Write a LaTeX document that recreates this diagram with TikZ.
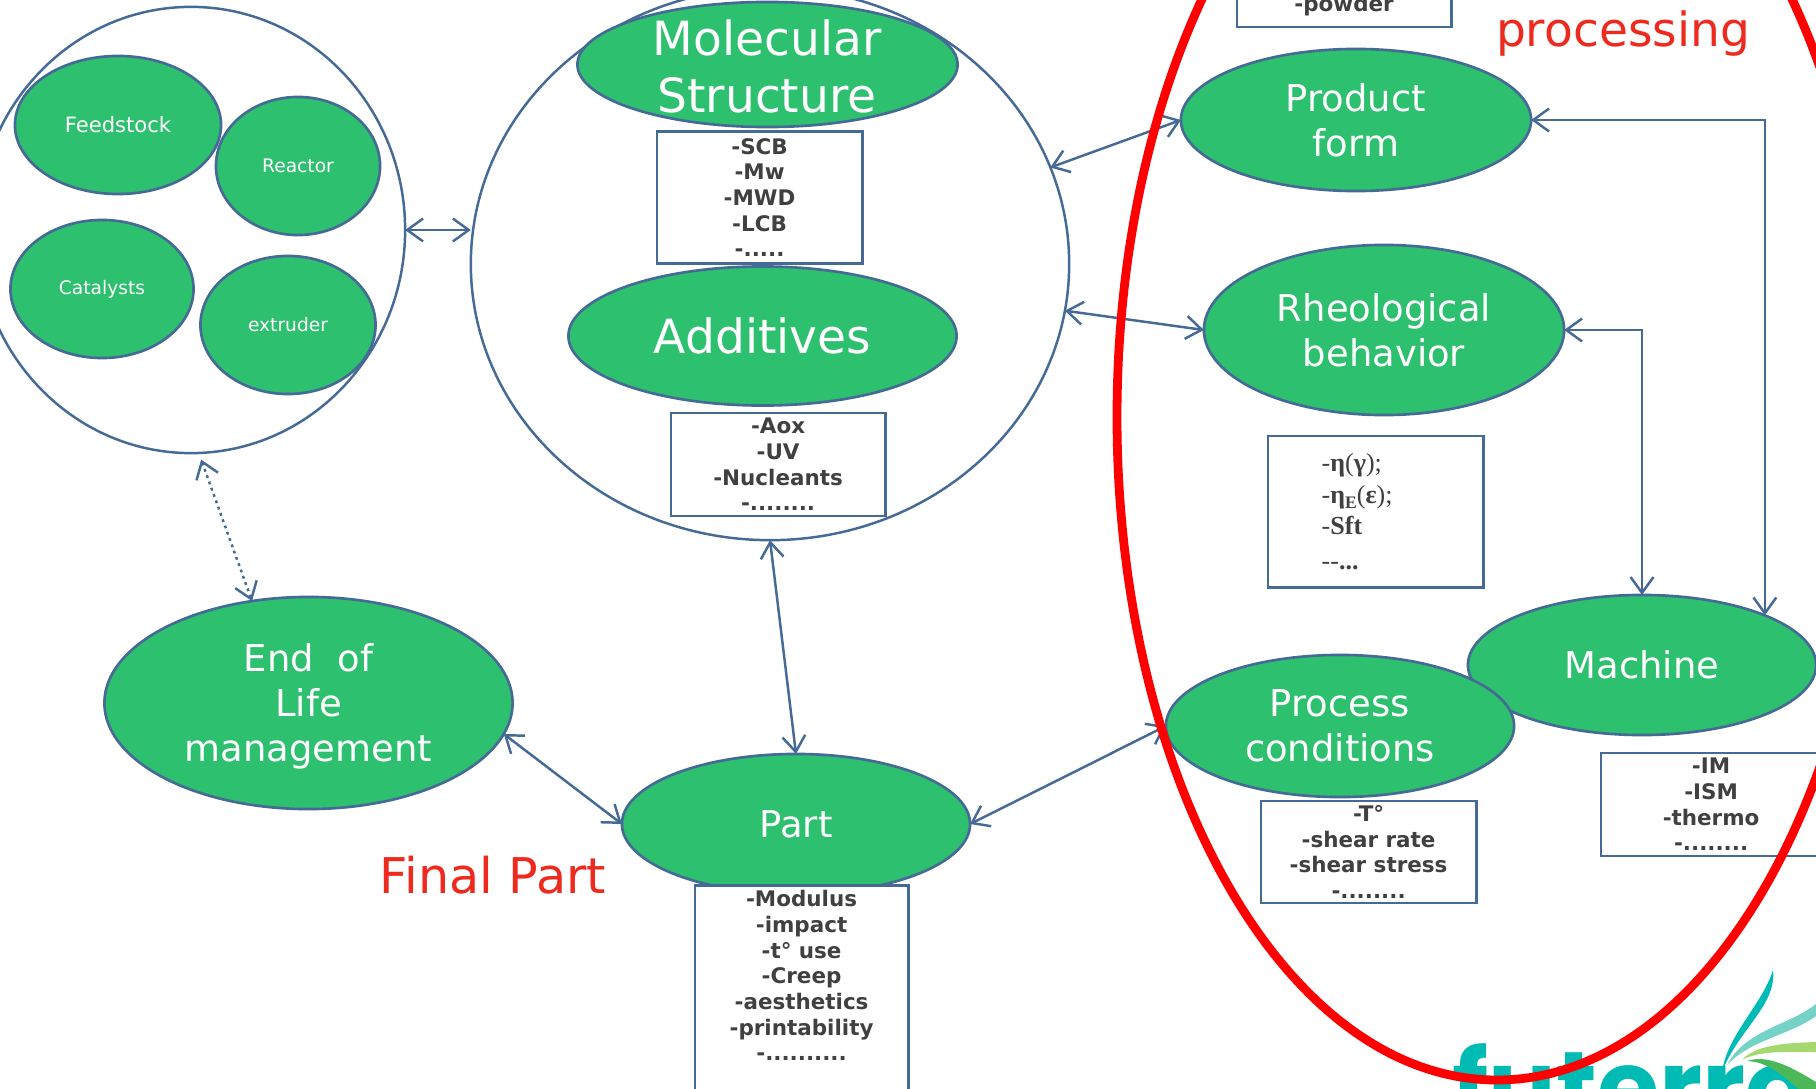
\documentclass[tikz,border=0pt]{standalone}
\usepackage{fontspec}
\setmainfont{DejaVu Sans}
\newfontfamily\logofont{Poppins}
\newfontfamily\viscofont{Liberation Serif}
\usetikzlibrary{arrows.meta,shapes.geometric}
\definecolor{nodegreen}{HTML}{2DC06E}
\definecolor{edgeblue}{HTML}{456A96}
\definecolor{titlered}{HTML}{EE2A1E}
\definecolor{boxgray}{HTML}{404040}
\definecolor{logoteal}{HTML}{00BBB4}
\definecolor{leafteal}{HTML}{74D2C6}
\definecolor{leaflime}{HTML}{A5D86E}
\definecolor{leafgreen}{HTML}{4DB858}
\tikzset{>/.tip={Straight Barb[length=4.5pt,width=6.5pt,line width=0.7pt]},
  blob/.style={ellipse,draw=edgeblue,line width=0.75pt,fill=nodegreen,text=white,align=center,inner sep=0pt,outer sep=0pt},
  bigblob/.style={blob,font=\fontsize{10.5}{12.8}\selectfont},
  hugeblob/.style={blob,font=\fontsize{13.4}{16.2}\selectfont},
  tinyblob/.style={blob,font=\fontsize{5.3}{6.4}\selectfont},
  blobtext/.style={text=white,align=center,inner sep=0pt,font=\fontsize{13.4}{16.2}\selectfont},
  ring/.style={ellipse,draw=edgeblue,line width=0.7pt,inner sep=0pt,outer sep=0pt},
  infobox/.style={draw=edgeblue,line width=0.8pt,fill=white,text=boxgray,align=center,anchor=north west,inner sep=0pt,outer sep=0pt,font=\fontsize{6.1}{7.3}\selectfont\bfseries},
  link/.style={<->,draw=edgeblue,line width=0.7pt},
  redtitle/.style={text=titlered,font=\fontsize{13.4}{16}\selectfont,inner sep=0pt}}

\begin{document}
\begin{tikzpicture}[x=0.01cm,y=-0.01cm]
\clip (0,0) rectangle (1816,1088);
\fill[white] (0,0) rectangle (1816,1088);

% rings
\node[ring,minimum width=4.28cm,minimum height=4.46cm] (source) at (191,230) {};
\node[ring,minimum width=5.98cm,minimum height=5.52cm] (polymer) at (770,264) {};

% logo
\node[text=logoteal,inner sep=0pt,anchor=base west,font=\logofont\fontsize{28.6}{28.6}\selectfont\bfseries] (logo) at (1452,1122) {futerro};
\fill[logoteal] (1773,970) .. controls (1777,1005) and (1738,1030) .. (1722,1072) .. controls (1727,1035) and (1762,1005) .. (1773,970);
\fill[leafteal] (1727,1065) .. controls (1745,1030) and (1790,1025) .. (1816,1004) -- (1816,1016) .. controls (1790,1035) and (1750,1040) .. (1727,1065);
\fill[leaflime] (1742,1060) .. controls (1755,1045) and (1785,1043) .. (1816,1042) -- (1816,1052) .. controls (1790,1052) and (1760,1050) .. (1742,1060);
\fill[leafgreen] (1747,1061) .. controls (1765,1055) and (1785,1063) .. (1816,1082) -- (1816,1090) -- (1800,1090) .. controls (1785,1078) and (1770,1062) .. (1747,1061);

% source nodes
\node[tinyblob,font=\fontsize{6}{7}\selectfont,minimum width=2.06cm,minimum height=1.38cm] (feedstock) at (118,125) {Feedstock};
\node[tinyblob,minimum width=1.64cm,minimum height=1.38cm] (reactor) at (298,166) {Reactor};
\node[tinyblob,minimum width=1.83cm,minimum height=1.38cm] (catalysts) at (102,289) {Catalysts};
\node[tinyblob,minimum width=1.75cm,minimum height=1.38cm] (extruder) at (288,325) {extruder};

% polymer nodes
\node[hugeblob,minimum width=3.8cm,minimum height=1.25cm] (molecular) at (767.5,64.5) {};
\node[blobtext] (moleculartext) at (767,66) {Molecular\\Structure};
\node[hugeblob,minimum width=3.88cm,minimum height=1.39cm] (additives) at (762.5,336) {Additives};
\node[infobox,minimum width=2.05cm,minimum height=1.32cm] (structbox) at (657,131.5) {-SCB\\-Mw\\-MWD\\-LCB\\-.....};
\node[infobox,minimum width=2.14cm,minimum height=1.03cm] (addbox) at (671,413) {-Aox\\-UV\\-Nucleants\\-........};

% processing nodes
\node[bigblob,minimum width=3.5cm,minimum height=1.42cm] (product) at (1356,120) {Product\\form};
\node[bigblob,minimum width=3.6cm,minimum height=1.7cm] (rheo) at (1384,330) {Rheological\\behavior};
\node[bigblob,minimum width=3.48cm,minimum height=1.4cm] (machine) at (1642,665) {Machine};
\node[bigblob,minimum width=3.48cm,minimum height=1.42cm] (process) at (1340,726) {Process\\conditions};
\node[infobox,minimum width=2.14cm,minimum height=0.42cm,anchor=south west] (formbox) at (1237,27) {-powder};
\node[infobox,minimum width=2.15cm,minimum height=1.51cm] (viscobox) at (1268,436) {};
\node[anchor=north west,inner sep=0pt,align=left,text=boxgray,font=\viscofont\fontsize{7.4}{8.9}\selectfont] (viscotext) at (1321,453) {-{\bfseries η}({\bfseries γ});\\-{\bfseries η\raisebox{-1.6pt}{\fontsize{5}{5}\selectfont E}}({\bfseries ε});\\-{\bfseries Sft}\\[1pt]--{\bfseries ...}};
\node[infobox,minimum width=2.15cm,minimum height=1.02cm] (processbox) at (1261,801) {-T°\\-shear rate\\-shear stress\\-........};
\node[infobox,minimum width=2.2cm,minimum height=1.03cm] (machinebox) at (1601,753) {-IM\\-ISM\\-thermo\\-........};

% part
\node[bigblob,minimum width=3.48cm,minimum height=1.4cm] (part) at (796,824) {Part};
\node[bigblob,minimum width=4.08cm,minimum height=2.12cm] (endlife) at (308.5,703) {\rule{0pt}{10pt}End\ \ of\\Life\\management};
\node[infobox,minimum width=2.13cm,minimum height=2.15cm] (partbox) at (695,885.5) {-Modulus\\-impact\\-t° use\\-Creep\\-aesthetics\\-printability\\-..........\\[2.6pt]\mbox{}};

\node[redtitle] (title) at (1623,34) {processing};
\node[redtitle,font=\fontsize{14}{16}\selectfont] (finalpart) at (493,875) {Final Part};

\draw[link] (source.east) -- (polymer.west |- source.east);
\draw[link,dash pattern=on 0.8pt off 1.1pt,shorten <=2pt] (source.-88) -- (endlife.119);
\draw[link] (polymer.19.5) -- (product.west);
\draw[link] (polymer.-9) -- (rheo.west);
\draw[link] (polymer.south) -- (part.north);
\draw[link] (part.west) -- (endlife.-9);
\draw[link] (part.east) -- (process.west);
\draw[link] (product.east) -| (machine.22);
\draw[link] (rheo.east) -| (machine.north);

% red ring
\draw[red,line width=2.5pt] (1497,417) ellipse (380 and 663);
\end{tikzpicture}
\end{document}
